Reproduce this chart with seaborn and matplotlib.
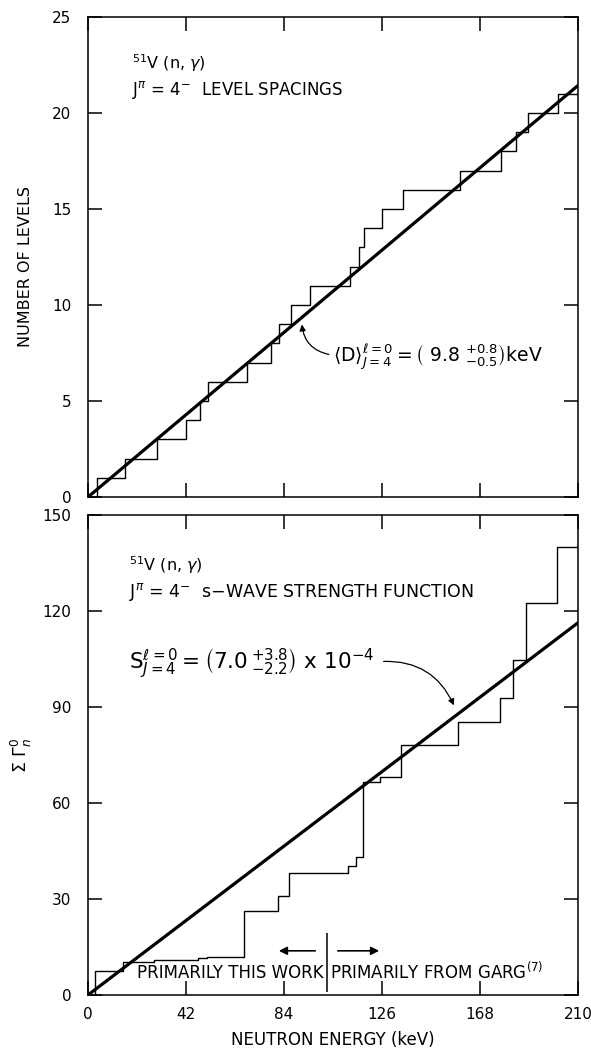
import numpy as np
import pandas as pd
import matplotlib
matplotlib.use('Agg')
import matplotlib.pyplot as plt
import seaborn as sns

# ── Data ─────────────────────────────────────────────────
# top: J=4- level energies (keV) and cumulative level count
level_E = [0, 4, 16, 29.5, 42, 48, 51.5, 68, 78.5, 82, 87, 95, 112.3, 116,
           118.4, 126, 135, 159.4, 177, 183.4, 188.4, 201.6, 210]
level_N = [0, 1, 2, 3, 4, 5, 6, 7, 8, 9, 10, 11, 12, 13,
           14, 15, 16, 17, 18, 19, 20, 21, 21]
fit_top_E = [0, 210]
fit_top_N = [0, 21.43]

# bottom: cumulative reduced neutron width sum
res_E = [0, 3, 15.1, 28.3, 47.3, 50.9, 67, 81.3, 86.3, 111.3, 114.9, 117.7,
         125.1, 134, 158.7, 176.6, 182.3, 187.7, 200.9, 210]
res_S = [0, 7.6, 10.2, 10.9, 11.5, 12.0, 26.2, 31.0, 38.0, 40.3, 43.2, 66.7,
         68.2, 78.1, 85.4, 92.7, 104.7, 122.6, 140.1, 140.1]
fit_bot_E = [0, 210]
fit_bot_S = [0, 116.3]

x_ticks = [0, 42, 84, 126, 168, 210]
top_yticks = [0, 5, 10, 15, 20, 25]
bot_yticks = [0, 30, 60, 90, 120, 150]
sep_E = 102.3   # boundary "this work" / "Garg"

# ── Style ────────────────────────────────────────────────
sns.set_style('ticks')
plt.rcParams['font.family'] = ['DejaVu Sans']
plt.rcParams['mathtext.fontset'] = 'dejavusans'
plt.rcParams['axes.linewidth'] = 1.1
plt.rcParams['text.color'] = 'black'
plt.rcParams['axes.labelcolor'] = 'black'
FS = 11.5

fig = plt.figure(figsize=(5.91, 10.49), dpi=100)
ax1 = fig.add_axes([0.1489, 0.5262, 0.829, 0.4576])
ax2 = fig.add_axes([0.1489, 0.0515, 0.829, 0.4576])

top_df = pd.DataFrame({'E': level_E, 'N': level_N})
bot_df = pd.DataFrame({'E': res_E, 'S': res_S})

sns.lineplot(data=top_df, x='E', y='N', ax=ax1, color='black', lw=1.0,
             drawstyle='steps-post', estimator=None, sort=False)
sns.lineplot(x=fit_top_E, y=fit_top_N, ax=ax1, color='black', lw=2.3)

sns.lineplot(data=bot_df, x='E', y='S', ax=ax2, color='black', lw=1.0,
             drawstyle='steps-post', estimator=None, sort=False)
sns.lineplot(x=fit_bot_E, y=fit_bot_S, ax=ax2, color='black', lw=2.3)

for ax, yt in [(ax1, top_yticks), (ax2, bot_yticks)]:
    ax.set_xlim(0, 210)
    ax.set_ylim(yt[0], yt[-1])
    ax.set_xticks(x_ticks)
    ax.set_yticks(yt)
    ax.tick_params(direction='in', length=10, width=1.1, top=True, right=True,
                   labelsize=11, pad=12, colors='black')
    for s in ax.spines.values():
        s.set_color('black')

ax1.tick_params(labelbottom=False)
ax1.set_xlabel('')
ax1.set_ylabel('NUMBER OF LEVELS', fontsize=FS)
ax1.yaxis.set_label_coords(-0.112, 0.48)
ax2.set_xlabel('NEUTRON ENERGY (keV)', fontsize=FS + 0.5, labelpad=6)
ax2.set_ylabel(r'$\Sigma\ \Gamma_n^0$', fontsize=FS + 1)
ax2.yaxis.set_label_coords(-0.11, 0.5)
ax2.tick_params(axis='x', pad=9)

# ── Top panel annotations ───────────────────────────────
ax1.text(0.09, 0.904, r'$^{51}$V (n, $\gamma$)', transform=ax1.transAxes,
         fontsize=FS, va='center')
ax1.text(0.09, 0.848, r'J$^{\pi}$ = 4$^{-}$  LEVEL SPACINGS',
         transform=ax1.transAxes, fontsize=FS + 0.5, va='center')
ax1.text(104.8, 7.3,
         r'$\mathrm{\langle D\rangle}^{\ell=0}_{J=4} = \left(\ 9.8\ ^{+0.8}_{-0.5}\right)$keV',
         fontsize=13.5, va='center', ha='left')
ax1.annotate('', xy=(91.6, 9.13), xytext=(104.4, 7.4),
             arrowprops=dict(arrowstyle='-|>', color='black', lw=0.9,
                             mutation_scale=9,
                             connectionstyle='arc3,rad=-0.4'))

# ── Bottom panel annotations ────────────────────────────
ax2.text(0.084, 0.896, r'$^{51}$V (n, $\gamma$)', transform=ax2.transAxes,
         fontsize=FS, va='center')
ax2.text(0.084, 0.840, r'J$^{\pi}$ = 4$^{-}$  s$-$WAVE STRENGTH FUNCTION',
         transform=ax2.transAxes, fontsize=FS + 1, va='center')
ax2.text(17.5, 103.7,
         r'$\mathrm{S}^{\ell=0}_{J=4} = \left(7.0\,^{+3.8}_{-2.2}\right)$ x 10$^{-4}$',
         fontsize=15.5, va='center', ha='left')
ax2.annotate('', xy=(157.3, 89.7), xytext=(125.5, 104.2),
             arrowprops=dict(arrowstyle='-|>', color='black', lw=0.9,
                             mutation_scale=9,
                             connectionstyle='arc3,rad=-0.35'))

ax2.vlines(sep_E, 1, 19.5, color='black', lw=1.1)
ax2.text(sep_E - 1.2, 7.0, 'PRIMARILY THIS WORK', fontsize=FS + 0.5,
         ha='right', va='center')
ax2.text(sep_E + 1.5, 7.0, 'PRIMARILY FROM GARG$^{(7)}$', fontsize=FS + 0.5,
         ha='left', va='center')
ax2.annotate('', xy=(80.6, 13.8), xytext=(98.6, 13.8),
             arrowprops=dict(arrowstyle='-|>', color='black', lw=1.2,
                             mutation_scale=12))
ax2.annotate('', xy=(126, 13.8), xytext=(105.9, 13.8),
             arrowprops=dict(arrowstyle='-|>', color='black', lw=1.2,
                             mutation_scale=12))

fig.savefig('out.png', dpi=100)
